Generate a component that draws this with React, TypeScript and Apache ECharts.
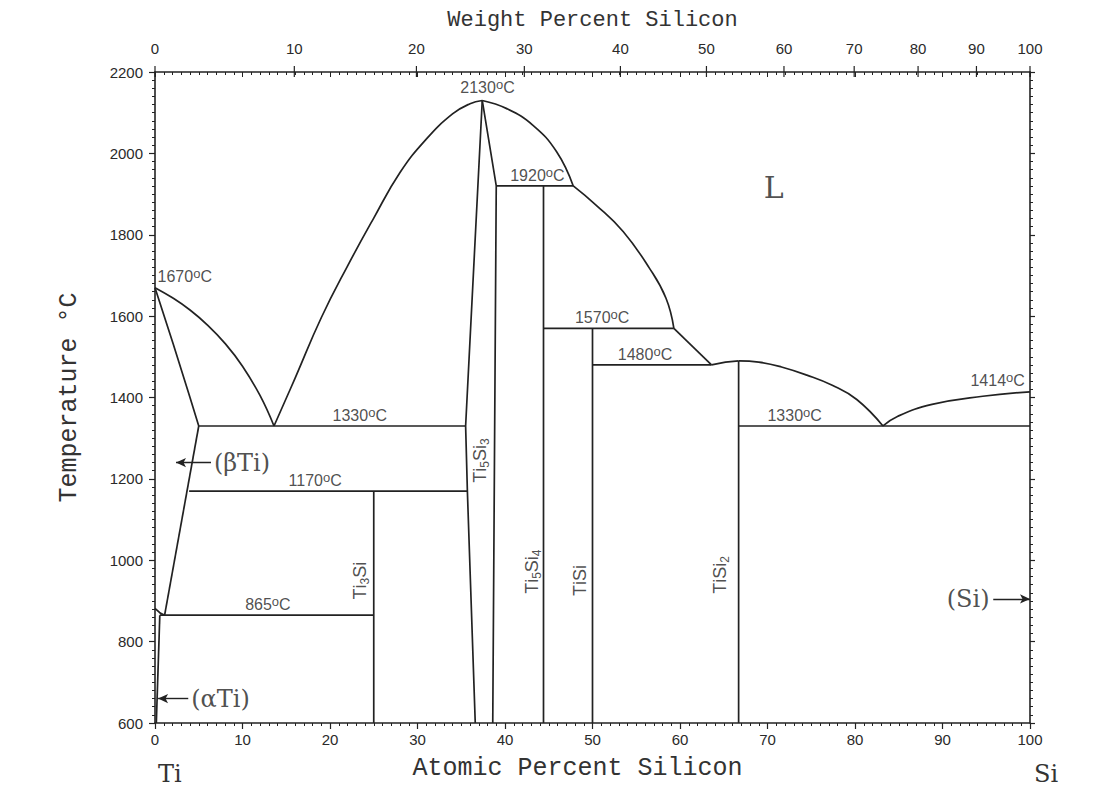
import React, { useEffect, useRef } from 'react';
import * as echarts from 'echarts';

// ---- phase boundaries: [atomic % Si, temperature °C] ----
const liquidusTi = [[0, 1670], [2, 1645], [4, 1615], [6, 1578], [8, 1533], [10, 1477], [12, 1405], [13.6, 1330]];
const solidusBetaTi = [[0, 1670], [2.1, 1530], [4.0, 1400], [5.0, 1330]];
const solvusBetaTi = [[5.0, 1330], [1.1, 865]];
const transusTi = [[0, 882], [0.6, 870], [1.1, 865]];
const solvusAlphaTi = [[0.55, 865], [0.15, 600]];
const liquidusTi5Si3Left = [[13.6, 1330], [16, 1447], [19, 1596], [22, 1723], [25, 1841], [28, 1953], [31, 2035], [34, 2097], [36, 2122], [37.4, 2130]];
const liquidusTi5Si3Right = [[37.4, 2130], [40.2, 2110], [43.2, 2069], [45.9, 2004], [47.8, 1920]];
const liquidusTi5Si4 = [[47.8, 1920], [50.4, 1873], [53.5, 1808], [56.5, 1718], [58.4, 1644], [59.3, 1570]];
const liquidusTiSi = [[59.3, 1570], [63.6, 1480]];
const liquidusTiSi2Left = [[63.6, 1480], [65.2, 1487], [66.7, 1490]];
const liquidusTiSi2Right = [[66.7, 1490], [69.0, 1487], [71.6, 1475], [74.5, 1455], [77.4, 1430], [80.2, 1395], [83.2, 1330]];
const liquidusSi = [[83.2, 1330], [84.9, 1354], [88.8, 1383], [94.6, 1403], [100, 1414]];
const ti5si3Left = [[37.4, 2130], [35.5, 1330], [35.7, 1170], [36.6, 600]];
const ti5si3Right = [[37.4, 2130], [39.0, 1920], [38.6, 600]];

const line1330Left = [[5.0, 1330], [35.5, 1330]];
const line1170 = [[3.9, 1170], [35.7, 1170]];
const line865 = [[0.55, 865], [25, 865]];
const lineTi3Si = [[25, 1170], [25, 600]];
const line1920 = [[39.0, 1920], [47.8, 1920]];
const lineTi5Si4 = [[44.4, 1920], [44.4, 600]];
const line1570 = [[44.4, 1570], [59.3, 1570]];
const lineTiSi = [[50, 1570], [50, 600]];
const line1480 = [[50, 1480], [63.6, 1480]];
const lineTiSi2 = [[66.7, 1490], [66.7, 600]];
const line1330Right = [[66.7, 1330], [100, 1330]];

const curves = [liquidusTi, liquidusTi5Si3Left, liquidusTi5Si3Right, liquidusTi5Si4, liquidusTiSi2Right, liquidusSi];
const straights = [solidusBetaTi, solvusBetaTi, transusTi, solvusAlphaTi, liquidusTiSi, liquidusTiSi2Left, ti5si3Left, ti5si3Right,
  line1330Left, line1170, line865, lineTi3Si, line1920, lineTi5Si4, line1570, lineTiSi, line1480, lineTiSi2, line1330Right];

// ---- axis ticks ----
const wtTicks = [0, 10, 20, 30, 40, 50, 60, 70, 80, 90, 100];

// ---- annotations ----
const tempLabels = [
  { t: '2130', x: 38.0, y: 2136 },
  { t: '1920', x: 43.7, y: 1920 },
  { t: '1670', x: 3.4, y: 1672 },
  { t: '1330', x: 23.4, y: 1330 },
  { t: '1170', x: 18.3, y: 1170 },
  { t: '865', x: 12.9, y: 865 },
  { t: '1570', x: 51.1, y: 1570 },
  { t: '1480', x: 56.0, y: 1480 },
  { t: '1330', x: 73.1, y: 1330 },
  { t: '1414', x: 96.3, y: 1416 },
];
const phaseLabels = [
  { text: 'T{n|i}{s|5}S{n|i}{s|3}', x: 37.1, y: 1245 },
  { text: 'T{n|i}{s|3}S{n|i}', x: 23.4, y: 950 },
  { text: 'T{n|i}{s|5}S{n|i}{s|4}', x: 43.1, y: 972 },
  { text: 'T{n|i}S{n|i}', x: 48.6, y: 950 },
  { text: 'T{n|i}S{n|i}{s|2}', x: 64.6, y: 964 },
];
const regionLabels = [
  { text: '(βTi)', x: 6.5, y: 1240, pos: 'right', size: 24 },
  { text: '(αTi)', x: 3.9, y: 660, pos: 'right', size: 24 },
  { text: '(Si)', x: 95.6, y: 905, pos: 'left', size: 24 },
  { text: 'L', x: 70.7, y: 1915, pos: 'inside', size: 30 },
];
const arrows = [
  { from: [6.4, 1240], to: [2.4, 1240] },
  { from: [3.8, 660], to: [0.35, 660] },
  { from: [95.8, 905], to: [100, 905] },
];

const INK = '#222';
const SANS = '"Liberation Sans", Arial, sans-serif';
const SERIF = '"DejaVu Serif", serif';
const MONO = '"Liberation Mono", monospace';

const wtToAt = (w: number) => {
  const a = w / 28.0855;
  const b = (100 - w) / 47.867;
  return (100 * a) / (a + b);
};

export default function App() {
  const ref = useRef<HTMLDivElement>(null);
  useEffect(() => {
    if (!ref.current) return;
    const chart = echarts.init(ref.current, undefined, { renderer: 'svg' });
    const lineSeries = (data: number[][], smooth: number | boolean) => ({
      type: 'line',
      data,
      symbol: 'none',
      smooth,
      silent: true,
      lineStyle: { color: INK, width: 1.7 },
      z: 3,
    });
    const option: any = {
      animation: false,
      backgroundColor: '#fff',
      grid: { left: 155, right: 78, top: 72, bottom: 71, containLabel: false, outerBoundsMode: 'none' },
      xAxis: [
        {
          type: 'value', min: 0, max: 100, interval: 10, position: 'bottom',
          name: 'Atomic Percent Silicon', nameLocation: 'middle', nameGap: 33,
          nameTextStyle: { fontFamily: MONO, fontSize: 25, color: '#333', padding: [0, 30, 0, 0] },
          axisLine: { show: true, onZero: false, lineStyle: { color: INK, width: 1.6 } },
          axisTick: { show: true, length: 6, lineStyle: { color: INK, width: 1.2 } },
          minorTick: { show: true, splitNumber: 10, length: 3, lineStyle: { color: INK, width: 1 } },
          axisLabel: { fontFamily: SANS, fontSize: 15, color: '#2a2a2a', margin: 9 },
          splitLine: { show: false },
        },
        {
          type: 'value', min: 0, max: 100, interval: 10, position: 'top',
          name: 'Weight Percent Silicon', nameLocation: 'middle', nameGap: 41,
          nameTextStyle: { fontFamily: MONO, fontSize: 22, color: '#333' },
          axisLine: { show: true, onZero: false, lineStyle: { color: INK, width: 1.6 } },
          axisTick: { show: true, inside: true, length: 5, lineStyle: { color: INK, width: 1 } },
          minorTick: { show: true, splitNumber: 10, length: 3, lineStyle: { color: INK, width: 1 } },
          axisLabel: { show: false },
          splitLine: { show: false },
        },
      ],
      yAxis: [
        {
          type: 'value', min: 600, max: 2200, interval: 200,
          name: 'Temperature °C', nameLocation: 'middle', nameGap: 73,
          nameTextStyle: { fontFamily: MONO, fontSize: 25, color: '#333' },
          axisLine: { show: true, onZero: false, lineStyle: { color: INK, width: 1.6 } },
          axisTick: { show: true, length: 6, lineStyle: { color: INK, width: 1.2 } },
          minorTick: { show: true, splitNumber: 10, length: 3, lineStyle: { color: INK, width: 1 } },
          axisLabel: { fontFamily: SANS, fontSize: 15, color: '#2a2a2a', margin: 12, formatter: (v: number) => String(v) },
          splitLine: { show: false },
        },
        {
          type: 'value', min: 600, max: 2200, interval: 200, position: 'right',
          axisLine: { show: true, onZero: false, lineStyle: { color: INK, width: 1.6 } },
          axisTick: { show: true, length: 5, lineStyle: { color: INK, width: 1.2 } },
          minorTick: { show: true, splitNumber: 10, length: 3, lineStyle: { color: INK, width: 1 } },
          axisLabel: { show: false },
          splitLine: { show: false },
        },
      ],
      graphic: [
        { type: 'text', left: 158, top: 762, style: { text: 'Ti', font: `24px ${SERIF}`, fill: '#333' } },
        { type: 'text', left: 1034, top: 762, style: { text: 'Si', font: `24px ${SERIF}`, fill: '#333' } },
      ],
      series: [
        ...curves.map((c) => lineSeries(c, 0.45)),
        ...straights.map((c) => lineSeries(c, false)),
        {
          type: 'custom',
          xAxisIndex: 0, yAxisIndex: 0,
          silent: true,
          data: wtTicks.map((w) => [w, 0]),
          renderItem: (_params: any, api: any) => {
            const w = api.value(0);
            const p = api.coord([wtToAt(w), 2200]);
            return {
              type: 'group',
              children: [
                { type: 'line', shape: { x1: p[0], y1: p[1] - 6, x2: p[0], y2: p[1] + 5 }, style: { stroke: INK, lineWidth: 1.2 } },
                {
                  type: 'text', x: p[0], y: p[1] - 16,
                  style: { text: String(w), fill: '#2a2a2a', fontSize: 15, fontFamily: SANS, align: 'center', verticalAlign: 'bottom' },
                },
              ],
            };
          },
          z: 4,
        },
        {
          type: 'scatter',
          symbolSize: 0,
          silent: true,
          data: tempLabels.map((l) => ({ value: [l.x, l.y], label: { formatter: `{n|${l.t}}{o|o}{n|C}` } })),
          label: {
            show: true, position: 'top', distance: 1,
            rich: {
              n: { fontFamily: SANS, fontSize: 16, color: '#222', lineHeight: 19 },
              o: { fontFamily: SANS, fontSize: 13, color: '#222', lineHeight: 11, verticalAlign: 'top' },
            },
          },
          z: 5,
        },
        {
          type: 'scatter',
          symbolSize: 0,
          silent: true,
          data: phaseLabels.map((l) => ({ value: [l.x, l.y], label: { formatter: l.text } })),
          label: {
            show: true, position: 'inside', rotate: 90,
            fontFamily: SANS, fontSize: 18, color: '#222', lineHeight: 22,
            rich: {
              n: { fontFamily: SANS, fontSize: 18, color: '#222', lineHeight: 22 },
              s: { fontFamily: SANS, fontSize: 12, color: '#222', lineHeight: 12, verticalAlign: 'bottom' },
            },
          },
          markLine: {
            silent: true,
            symbol: ['none', 'arrow'],
            symbolSize: [7, 10],
            label: { show: false },
            lineStyle: { color: INK, width: 1.4, type: 'solid' },
            data: arrows.map((a) => [{ coord: a.from }, { coord: a.to }]),
          },
          z: 5,
        },
        {
          type: 'scatter',
          symbolSize: 0,
          silent: true,
          data: regionLabels.map((l) => ({
            value: [l.x, l.y],
            label: { position: l.pos, fontSize: l.size },
          })),
          label: {
            show: true, distance: 2, fontFamily: SERIF, color: '#222',
            formatter: (p: any) => regionLabels[p.dataIndex].text,
          },
          z: 5,
        },
      ],
    };
    chart.setOption(option);
    return () => chart.dispose();
  }, []);
  return <div ref={ref} style={{ position: 'fixed', left: 0, top: 0, width: 1108, height: 794 }} />;
}
